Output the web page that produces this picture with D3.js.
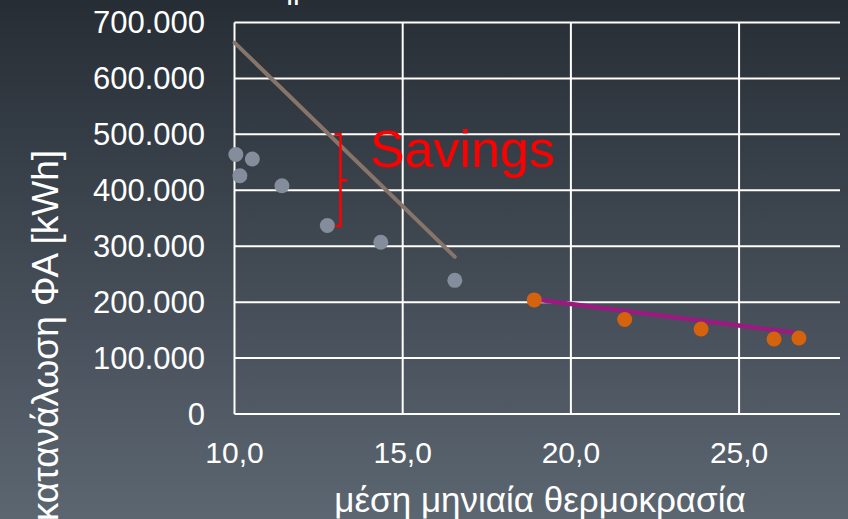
<!DOCTYPE html>
<html>
<head>
<meta charset="utf-8">
<script src="https://cdn.jsdelivr.net/npm/d3@7"></script>
<style>
  html, body { margin: 0; padding: 0; overflow: hidden; }
  svg { display: block; font-family: "Liberation Sans", Arial, sans-serif; }
</style>
</head>
<body>
<div id="chart"></div>
<script>
// values
const beforeTemp = [10.04, 10.53, 10.16, 11.41, 12.76, 14.35, 16.55];
const beforeKwh  = [464000, 456000, 426000, 408000, 337000, 307000, 239000];
const afterTemp  = [18.91, 21.60, 23.87, 26.04, 26.78];
const afterKwh   = [204000, 169000, 152000, 134000, 136000];
const beforeTrend = [[10.0, 664000], [16.55, 281000]];
const afterTrend  = [[18.91, 205000], [26.6, 146000]];
const savingsAt = {x: 13.15, top: 500000, bottom: 336000};
const xTicks = [10, 15, 20, 25];
const yTicks = [0, 100000, 200000, 300000, 400000, 500000, 600000, 700000];

const W = 848, H = 519;
const margin = {top: 22.5, right: 8, bottom: 105, left: 234.5};

const gr = d3.formatLocale({decimal: ",", thousands: ".", grouping: [3], currency: ["", "€"]});
const fmtY = gr.format(",.0f");
const fmtX = gr.format(",.1f");

const svg = d3.select("#chart").append("svg")
  .attr("width", W)
  .attr("height", H);

const defs = svg.append("defs");
const bg = defs.append("linearGradient")
  .attr("id", "bg")
  .attr("x1", 0).attr("y1", 0).attr("x2", 0).attr("y2", 1);
bg.append("stop").attr("offset", "0%").attr("stop-color", "#262d35");
bg.append("stop").attr("offset", "100%").attr("stop-color", "#5c6671");

svg.append("rect")
  .attr("width", W)
  .attr("height", H)
  .attr("fill", "url(#bg)");

const x = d3.scaleLinear().domain([10, 28]).range([margin.left, W - margin.right]);
const y = d3.scaleLinear().domain([0, 700000]).range([H - margin.bottom, margin.top]);

// cut-off title fragment at the very top (as in the reference)
svg.append("text")
  .attr("x", 293)
  .attr("y", 5)
  .attr("text-anchor", "middle")
  .attr("font-size", 30)
  .attr("fill", "#ffffff")
  .text("ll");

// grid
const grid = svg.append("g");
grid.selectAll("line.h")
  .data(yTicks)
  .join("line")
  .attr("class", "h")
  .attr("x1", x(10)).attr("x2", x(28))
  .attr("y1", d => y(d)).attr("y2", d => y(d))
  .attr("stroke", "#ffffff")
  .attr("stroke-width", 2);
grid.selectAll("line.v")
  .data(xTicks)
  .join("line")
  .attr("class", "v")
  .attr("x1", d => x(d)).attr("x2", d => x(d))
  .attr("y1", y(0)).attr("y2", y(700000))
  .attr("stroke", "#ffffff")
  .attr("stroke-width", 2);

// tick labels
svg.append("g").selectAll("text")
  .data(yTicks)
  .join("text")
  .attr("x", 205)
  .attr("y", d => y(d))
  .attr("dy", "0.35em")
  .attr("text-anchor", "end")
  .attr("font-size", 31)
  .attr("fill", "#ffffff")
  .text(d => fmtY(d));

svg.append("g").selectAll("text")
  .data(xTicks)
  .join("text")
  .attr("x", d => x(d))
  .attr("y", 462.7)
  .attr("text-anchor", "middle")
  .attr("font-size", 30)
  .attr("fill", "#ffffff")
  .text(d => fmtX(d));

// axis titles
svg.append("text")
  .attr("x", 540)
  .attr("y", 512)
  .attr("text-anchor", "middle")
  .attr("font-size", 35)
  .attr("fill", "#ffffff")
  .text("μέση μηνιαία θερμοκρασία");

svg.append("text")
  .attr("transform", "translate(58,150) rotate(-90)")
  .attr("text-anchor", "end")
  .attr("font-size", 37)
  .attr("fill", "#ffffff")
  .text("κατανάλωση ΦΑ [kWh]");

// trend lines
const line = d3.line().x(d => x(d[0])).y(d => y(d[1]));
svg.append("path")
  .datum(beforeTrend)
  .attr("d", line)
  .attr("fill", "none")
  .attr("stroke", "#877569")
  .attr("stroke-width", 4)
  .attr("stroke-linecap", "round");
svg.append("path")
  .datum(afterTrend)
  .attr("d", line)
  .attr("fill", "none")
  .attr("stroke", "#9b1a80")
  .attr("stroke-width", 4.5)
  .attr("stroke-linecap", "round");

// points
svg.append("g").selectAll("circle")
  .data(d3.zip(beforeTemp, beforeKwh))
  .join("circle")
  .attr("cx", d => x(d[0]))
  .attr("cy", d => y(d[1]))
  .attr("r", 7.5)
  .attr("fill", "#848d9b");
svg.append("g").selectAll("circle")
  .data(d3.zip(afterTemp, afterKwh))
  .join("circle")
  .attr("cx", d => x(d[0]))
  .attr("cy", d => y(d[1]))
  .attr("r", 7.5)
  .attr("fill", "#d5620c");

// savings bracket
const bx = x(savingsAt.x), bt = y(savingsAt.top), bb = y(savingsAt.bottom);
const bm = (bt + bb) / 2;
svg.append("path")
  .attr("d", `M${bx - 6},${bt}H${bx}V${bb}H${bx - 5}M${bx},${bm}H${bx + 7}`)
  .attr("fill", "none")
  .attr("stroke", "#ff0000")
  .attr("stroke-width", 2.5);
svg.append("text")
  .attr("x", 370)
  .attr("y", 166.5)
  .attr("font-size", 52)
  .attr("fill", "#ff0000")
  .text("Savings");
</script>
</body>
</html>
